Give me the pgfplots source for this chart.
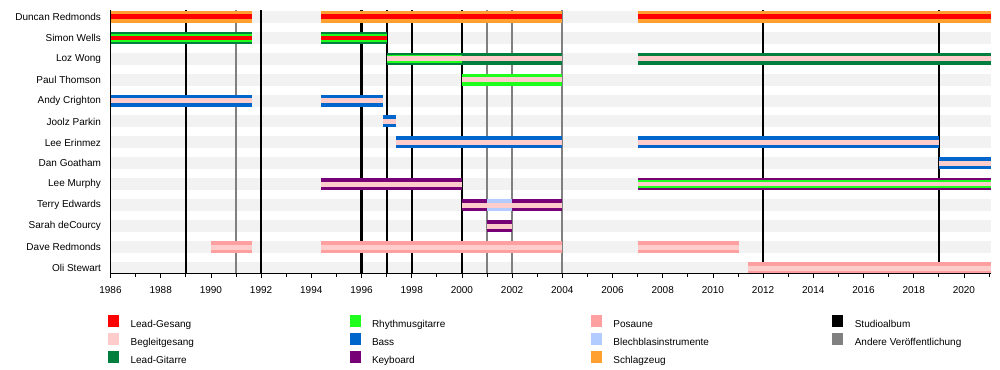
\documentclass[border=0pt]{standalone}
\usepackage{pgfplots}
\pgfplotsset{compat=1.18}
\usepackage{fontspec}
\setmainfont{Liberation Sans}
\definecolor{cLV}{HTML}{FF0000}
\definecolor{cBV}{HTML}{FFCCCC}
\definecolor{cLG}{HTML}{007F3F}
\definecolor{cRG}{HTML}{1EFF1E}
\definecolor{cBS}{HTML}{0066CC}
\definecolor{cKB}{HTML}{770077}
\definecolor{cTB}{HTML}{FFA0A0}
\definecolor{cBR}{HTML}{B3CCFF}
\definecolor{cDR}{HTML}{FFA030}
\definecolor{cOR}{HTML}{808080}
\definecolor{stripe}{HTML}{F2F2F2}
\newcommand{\seg}[5]{\addplot[forget plot, line width=#2, color=#1] coordinates {(#3,#5) (#4,#5)};}
\newcommand{\vl}[2]{\addplot[forget plot, line width=2.2pt, color=#1] coordinates {(#2,-0.28) (#2,12.32)};}
\begin{document}
\fontsize{10}{12}\selectfont
\begin{tikzpicture}
\useasboundingbox (0,0) rectangle (1000pt,369pt);
\begin{axis}[
  at={(110.5pt,95pt)}, anchor=south west,
  x=25.1pt, y=20.95pt,
  xmin=1986, xmax=2021.07, ymin=-0.28, ymax=12.32,
  clip=false, axis on top,
  axis x line*=bottom, axis y line*=left,
  axis line style={black, line width=1pt},
  xtick={1986,1988,...,2020},
  minor xtick={1987,1989,...,2021},
  tick align=outside,
  major tick length=4pt, minor tick length=3pt,
  xtick style={black, line width=0.8pt},
  ytick={0,...,12},
  yticklabels={Oli Stewart, Dave Redmonds, Sarah deCourcy, Terry Edwards, Lee Murphy, Dan Goatham, Lee Erinmez, Joolz Parkin, Andy Crighton, Paul Thomson, Loz Wong, Simon Wells, Duncan Redmonds},
  ytick style={draw=none},
  yticklabel style={font=\fontsize{10}{12}\selectfont, xshift=-2pt},
  xticklabel style={font=\fontsize{10}{12}\selectfont, yshift=-4.5pt},
  /pgf/number format/assume math mode=true,
  /pgf/number format/1000 sep={},
  legend image code/.code={\fill[#1] (0pt,-2pt) rectangle (10pt,9pt);},
  legend columns=4,
  legend style={draw=none, fill=none, font=\fontsize{10}{12}\selectfont,
    at={(rel axis cs:0,0)}, anchor=north west, xshift=-2.5pt, yshift=-41pt,
    inner sep=0pt, nodes={inner sep=0pt},
    /tikz/every odd column/.append style={column sep=12pt},
    /tikz/every even column/.append style={column sep=19pt},
    row sep=4.5pt},
]
% background stripes
\seg{stripe}{12pt}{1986}{2021.07}{0}
\seg{stripe}{12pt}{1986}{2021.07}{1}
\seg{stripe}{12pt}{1986}{2021.07}{2}
\seg{stripe}{12pt}{1986}{2021.07}{3}
\seg{stripe}{12pt}{1986}{2021.07}{4}
\seg{stripe}{12pt}{1986}{2021.07}{5}
\seg{stripe}{12pt}{1986}{2021.07}{6}
\seg{stripe}{12pt}{1986}{2021.07}{7}
\seg{stripe}{12pt}{1986}{2021.07}{8}
\seg{stripe}{12pt}{1986}{2021.07}{9}
\seg{stripe}{12pt}{1986}{2021.07}{10}
\seg{stripe}{12pt}{1986}{2021.07}{11}
\seg{stripe}{12pt}{1986}{2021.07}{12}
% release lines
\vl{black}{1989}
\vl{cOR}{1991}
\vl{black}{1992}
\vl{black}{1996}
\vl{black}{1997}
\vl{black}{1998}
\vl{black}{2000}
\vl{cOR}{2001}
\vl{cOR}{2002}
\vl{cOR}{2004}
\vl{black}{2012}
\vl{black}{2019}
% Duncan Redmonds (12)
\seg{cDR}{12pt}{1986}{1991.64}{12}
\seg{cDR}{12pt}{1994.39}{2004}{12}
\seg{cDR}{12pt}{2007}{2021.07}{12}
\seg{cLV}{5pt}{1986}{1991.64}{12}
\seg{cLV}{5pt}{1994.39}{2004}{12}
\seg{cLV}{5pt}{2007}{2021.07}{12}
% Simon Wells (11)
\seg{cLG}{12pt}{1986}{1991.64}{11}
\seg{cLG}{12pt}{1994.39}{1997}{11}
\seg{cRG}{8pt}{1986}{1991.64}{11}
\seg{cRG}{8pt}{1994.39}{1997}{11}
\seg{cLV}{4pt}{1986}{1991.64}{11}
\seg{cLV}{4pt}{1994.39}{1997}{11}
% Loz Wong (10)
\seg{cLG}{12pt}{1997}{2004}{10}
\seg{cLG}{12pt}{2007}{2021.07}{10}
\seg{cRG}{8pt}{1997}{2000}{10}
\seg{cBV}{4.5pt}{1997}{2004}{10}
\seg{cBV}{4.5pt}{2007}{2021.07}{10}
% Paul Thomson (9)
\seg{cRG}{12pt}{2000}{2004}{9}
\seg{cBV}{5pt}{2000}{2004}{9}
% Andy Crighton (8)
\seg{cBS}{12pt}{1986}{1991.64}{8}
\seg{cBS}{12pt}{1994.39}{1996.84}{8}
\seg{cBV}{5pt}{1986}{1991.64}{8}
\seg{cBV}{5pt}{1994.39}{1996.84}{8}
% Joolz Parkin (7)
\seg{cBS}{12pt}{1996.84}{1997.39}{7}
\seg{cBV}{5pt}{1996.84}{1997.39}{7}
% Lee Erinmez (6)
\seg{cBS}{12pt}{1997.39}{2004}{6}
\seg{cBS}{12pt}{2007}{2019}{6}
\seg{cBV}{5pt}{1997.39}{2004}{6}
\seg{cBV}{5pt}{2007}{2019}{6}
% Dan Goatham (5)
\seg{cBS}{12pt}{2019}{2021.07}{5}
\seg{cBV}{5pt}{2019}{2021.07}{5}
% Lee Murphy (4)
\seg{cKB}{12pt}{1994.39}{2000}{4}
\seg{cKB}{12pt}{2007}{2021.07}{4}
\seg{cRG}{8pt}{2007}{2021.07}{4}
\seg{cBV}{5pt}{1994.39}{2000}{4}
\seg{cBV}{4pt}{2007}{2021.07}{4}
% Terry Edwards (3)
\seg{cKB}{12pt}{2000}{2001}{3}
\seg{cBR}{12pt}{2001}{2002}{3}
\seg{cKB}{12pt}{2002}{2004}{3}
\seg{cBV}{5pt}{2000}{2004}{3}
% Sarah deCourcy (2)
\seg{cKB}{12pt}{2001}{2002}{2}
\seg{cBV}{5pt}{2001}{2002}{2}
% Dave Redmonds (1)
\seg{cTB}{12pt}{1990}{1991.64}{1}
\seg{cTB}{12pt}{1994.39}{2004}{1}
\seg{cTB}{12pt}{2007}{2011.04}{1}
\seg{cBV}{5pt}{1990}{1991.64}{1}
\seg{cBV}{5pt}{1994.39}{2004}{1}
\seg{cBV}{5pt}{2007}{2011.04}{1}
% Oli Stewart (0)
\seg{cTB}{12pt}{2011.4}{2021.07}{0}
\seg{cBV}{5pt}{2011.4}{2021.07}{0}
% legend (row-wise order, shown column-wise)
\addlegendimage{cLV}\addlegendentry{\makebox[200pt][l]{Lead-Gesang}}
\addlegendimage{cRG}\addlegendentry{\makebox[200pt][l]{Rhythmusgitarre}}
\addlegendimage{cTB}\addlegendentry{\makebox[200pt][l]{Posaune}}
\addlegendimage{black}\addlegendentry{\makebox[200pt][l]{Studioalbum}}
\addlegendimage{cBV}\addlegendentry{\makebox[200pt][l]{Begleitgesang}}
\addlegendimage{cBS}\addlegendentry{\makebox[200pt][l]{Bass}}
\addlegendimage{cBR}\addlegendentry{\makebox[200pt][l]{Blechblasinstrumente}}
\addlegendimage{cOR}\addlegendentry{\makebox[200pt][l]{Andere Veröffentlichung}}
\addlegendimage{cLG}\addlegendentry{\makebox[200pt][l]{Lead-Gitarre}}
\addlegendimage{cKB}\addlegendentry{\makebox[200pt][l]{Keyboard}}
\addlegendimage{cDR}\addlegendentry{\makebox[200pt][l]{Schlagzeug}}
\end{axis}
\end{tikzpicture}
\end{document}
